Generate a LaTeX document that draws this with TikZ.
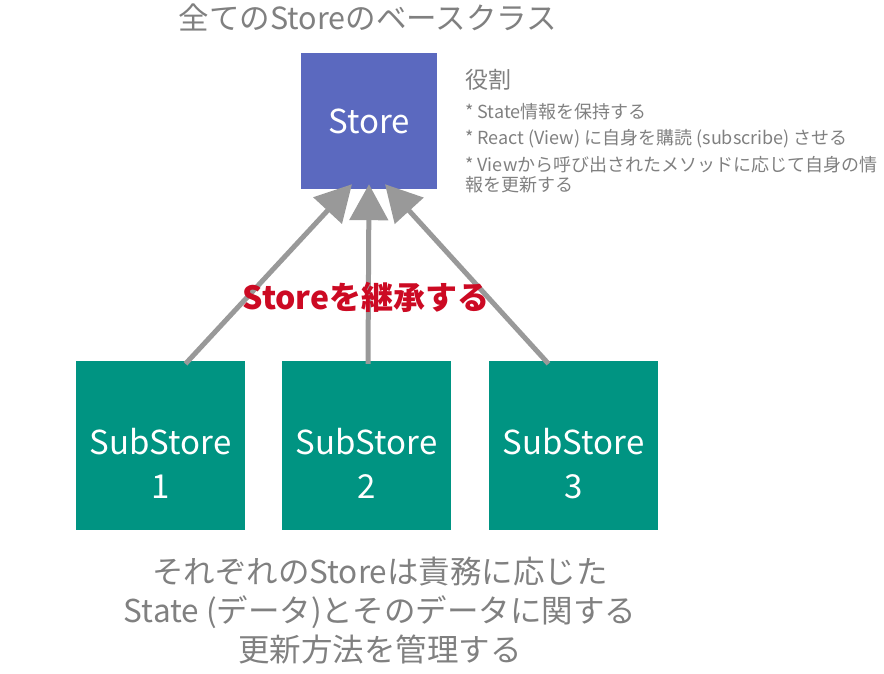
\documentclass[tikz,border=0pt]{standalone}
\usepackage{fontspec}
\setmainfont{Noto Sans CJK JP}
\usetikzlibrary{arrows.meta}

\definecolor{storeblue}{HTML}{5B69BF}
\definecolor{subgreen}{HTML}{009482}
\definecolor{notegray}{HTML}{808080}
\definecolor{arrowgray}{HTML}{999999}
\definecolor{inheritred}{HTML}{CC0A23}

\tikzset{
  basebox/.style={fill=storeblue, text=white, minimum size=136pt, inner sep=0pt,
    font=\fontsize{33}{38}\selectfont},
  subbox/.style={fill=subgreen, minimum size=169pt, inner sep=0pt,
    label={[yshift=-18pt, text=white, align=center, inner sep=0pt,
      font=\fontsize{33}{44}\selectfont]center:#1}},
  inherit/.style={draw=arrowgray, line width=5pt,
    -{Triangle[length=36pt,width=38pt]}},
  note/.style={text=notegray, inner sep=0pt}
}

\begin{document}
\begin{tikzpicture}[x=1pt,y=-1pt]
  \useasboundingbox (0,0) rectangle (884,674);

  % Base store
  \node[basebox] (store) at (369,121) {Store};
  \node[note, font=\fontsize{30.5}{34}\selectfont] (title) at (368,17) {全てのStoreのベースクラス};

  % Role notes
  \node[note, anchor=west, font=\fontsize{23}{26}\selectfont] (role) at (465,80) {役割};
  \node[note, anchor=north west, align=left, font=\fontsize{18}{26.5}\selectfont] (rolelist) at (465,103)
    {* State情報を保持する\\
     * React (View) に自身を購読 (subscribe) させる\\
     * Viewから呼び出されたメソッドに応じて自身の情\\[-6pt]
     報を更新する};

  % Sub stores
  \node[subbox={SubStore\\1}] (sub1) at (160.5,445.5) {};
  \node[subbox={SubStore\\2}] (sub2) at (366.5,445.5) {};
  \node[subbox={SubStore\\3}] (sub3) at (573.5,445.5) {};

  % Inheritance arrows
  \draw[inherit] ([xshift=25pt,yshift=-3pt]sub1.north) -- ([xshift=-17pt,yshift=5pt]store.south);
  \draw[inherit] ([xshift=1.5pt,yshift=-3pt]sub2.north) -- ([yshift=5pt]store.south);
  \draw[inherit] ([xshift=-25pt,yshift=-3pt]sub3.north) -- ([xshift=16pt,yshift=5pt]store.south);

  \node[text=inheritred, inner sep=0pt, font=\bfseries\fontsize{32}{36}\selectfont] (label) at (366,297) {Storeを継承する};

  % Bottom note
  \node[note, align=center, font=\fontsize{31.5}{39}\selectfont] (desc) at (380,611)
    {それぞれのStoreは責務に応じた\\
     State (データ)とそのデータに関する\\
     更新方法を管理する};
\end{tikzpicture}
\end{document}
